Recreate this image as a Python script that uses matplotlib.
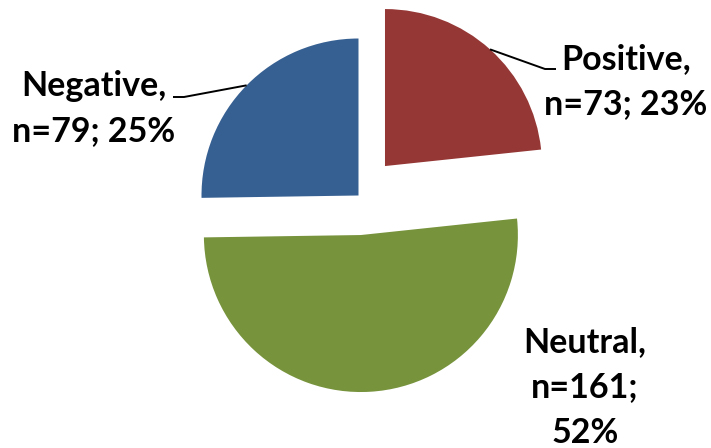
import numpy as np
import matplotlib
matplotlib.use("Agg")
import matplotlib.pyplot as plt

# Sentiment breakdown
categories = ["Positive", "Neutral", "Negative"]
counts = [73, 161, 79]
shares = [23, 52, 25]          # printed percentages
colors = ["#953735", "#77933C", "#376092"]

W, H, DPI = 711, 448, 100
fig = plt.figure(figsize=(W / DPI, H / DPI), dpi=DPI)
ax = fig.add_axes([0, 0, 1, 1])
ax.set_xlim(0, W)
ax.set_ylim(0, H)
ax.set_aspect("equal")
ax.axis("off")

center = (358.5, H - 195.5)
radius = 157
offset = 39.6
explode = [offset, offset, 0]

wedges, _ = ax.pie(counts, colors=colors, startangle=90, counterclock=False,
                   explode=explode, radius=radius, center=center,
                   wedgeprops=dict(linewidth=0))
ax.set_xlim(0, W)
ax.set_ylim(0, H)

font = dict(family=["Lato", "DejaVu Sans"], fontweight="bold",
            fontsize=24.5, color="black")
line_h = 45.5

def draw_label(lines, cx, top_baseline_img):
    for i, s in enumerate(lines):
        ax.text(cx, H - (top_baseline_img + i * line_h), s, ha="center",
                va="baseline", **font)

labels = [[f"{c},", f"n={n}; {p}%"] for c, n, p in zip(categories, counts, shares)]

# Positive label with leader line
w = wedges[0]
m = np.deg2rad((w.theta1 + w.theta2) / 2)
ax.plot([w.center[0] + radius * np.cos(m), 545, 556],
        [w.center[1] + radius * np.sin(m), H - 69, H - 69],
        color="black", lw=1.4, solid_capstyle="butt")
draw_label(labels[0], 626, 69)

# Negative label with leader line
w = wedges[2]
m = np.deg2rad((w.theta1 + w.theta2) / 2)
ax.plot([w.center[0] + radius * np.cos(m), 184, 173],
        [w.center[1] + radius * np.sin(m), H - 97, H - 97],
        color="black", lw=1.4, solid_capstyle="butt")
draw_label(labels[2], 94, 96)

# Neutral label (three lines, no leader)
draw_label([f"{categories[1]},", f"n={counts[1]};", f"{shares[1]}%"], 585, 352)

fig.savefig("out.png", dpi=DPI)
